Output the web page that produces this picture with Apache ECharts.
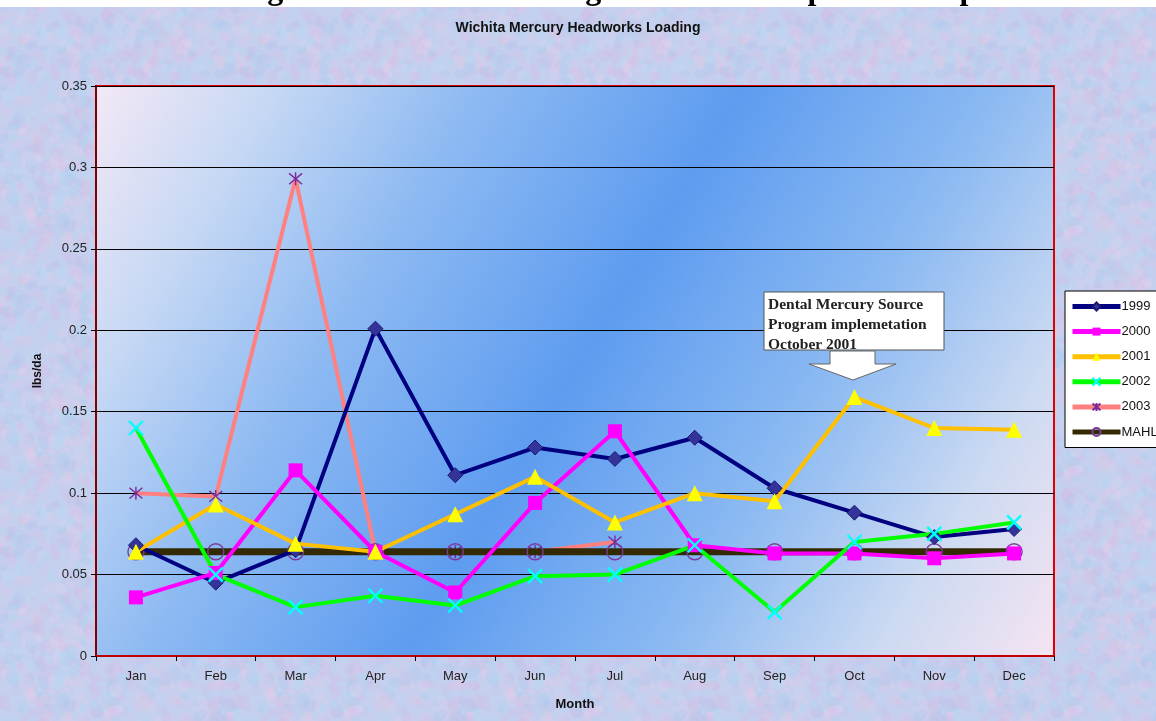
<!DOCTYPE html>
<html>
<head>
<meta charset="utf-8">
<script src="https://cdn.jsdelivr.net/npm/echarts@6/dist/echarts.min.js"></script>
<style>
html,body{margin:0;padding:0;background:#fff;}
#chart{width:1156px;height:721px;}
</style>
</head>
<body>
<div id="chart"></div>
<script>
// ---- data ----
const months = ['Jan','Feb','Mar','Apr','May','Jun','Jul','Aug','Sep','Oct','Nov','Dec'];
const y1999 = [0.068,0.045,0.065,0.201,0.111,0.128,0.121,0.134,0.103,0.088,0.073,0.078];
const y2000 = [0.036,0.051,0.114,0.064,0.039,0.094,0.138,0.068,0.063,0.063,0.060,0.063];
const y2001 = [0.064,0.093,0.069,0.064,0.087,0.110,0.082,0.100,0.095,0.159,0.140,0.139];
const y2002 = [0.140,0.050,0.030,0.037,0.031,0.049,0.050,0.068,0.027,0.070,0.075,0.082];
const y2003 = [0.100,0.098,0.293,0.064,0.064,0.064,0.070,null,null,null,null,null];
const mahl  = [0.064,0.064,0.064,0.064,0.064,0.064,0.064,0.064,0.064,0.064,0.064,0.064];
const seriesNames = ['1999','2000','2001','2002','2003','MAHL'];
const yTicks = {min:0, max:0.35, interval:0.05};

// ---- mottled background texture (deterministic) ----
function hash(i){ const x = Math.sin(i*12.9898+78.233)*43758.5453; return x - Math.floor(x); }
const tex = document.createElement('canvas');
tex.width = 240; tex.height = 240;
const g = tex.getContext('2d');
g.fillStyle = '#c4d0ee'; g.fillRect(0,0,240,240);
const blot = ['#e2c4e6','#b2d4f4','#ccc4ee','#a8c4ec','#e6d0ec','#bcdcf4','#d8bce2'];
for (let i=0;i<1100;i++){
  const x = hash(i)*240, y = hash(i+5000)*240, r = 3+hash(i+9000)*6;
  g.globalAlpha = 0.28;
  g.fillStyle = blot[Math.floor(hash(i+13000)*blot.length)];
  for (const dx of [-240,0,240]) for (const dy of [-240,0,240]){
    g.beginPath(); g.ellipse(x+dx,y+dy,r,r*0.7,hash(i+17000)*3,0,Math.PI*2); g.fill();
  }
}
g.globalAlpha = 1;

const chart = echarts.init(document.getElementById('chart'));
const font = '"Liberation Sans", Arial, sans-serif';
const X_PATH = 'path://M0,0 L10,10 M10,0 L0,10';
const AST_PATH = 'path://M0,0 L10,10 M10,0 L0,10 M5,-1 L5,11';

function mk(name, data, lineColor, symbol, size, itemStyle, z, lw){
  return {
    name, type:'line', data, z,
    symbol, symbolSize:size, showSymbol:true, connectNulls:false,
    lineStyle:{color:lineColor, width:lw||4},
    itemStyle, emphasis:{disabled:true}, animation:false
  };
}

chart.setOption({
  backgroundColor:{image:tex, repeat:'repeat'},
  animation:false,
  title:{
    text:'Wichita Mercury Headworks Loading',
    left:'center', top:16,
    textStyle:{fontFamily:font, fontWeight:'bold', fontSize:14, color:'#111'}
  },
  legend:{
    orient:'vertical', left:1065, top:291,
    itemWidth:48, itemHeight:10, itemGap:12.1,
    padding:[9,6,9,5],
    backgroundColor:'#ffffff', borderColor:'#000', borderWidth:1,
    lineStyle:{width:5},
    textStyle:{fontFamily:font, fontSize:13, color:'#111', padding:[0,0,0,-4]},
    data:seriesNames
  },
  grid:{
    left:96, right:102, top:86, bottom:65,
    show:true,
    borderColor:'#e00000', borderWidth:2,
    backgroundColor: new echarts.graphic.LinearGradient(0,0,1,1,[
      {offset:0, color:'#f4e8f6'},
      {offset:0.14, color:'#c6d8f4'},
      {offset:0.3, color:'#8cb9f2'},
      {offset:0.5, color:'#5e9cf0'},
      {offset:0.7, color:'#8cbaf2'},
      {offset:0.86, color:'#ccdaf2'},
      {offset:1, color:'#f6e4f2'}
    ])
  },
  xAxis:{
    type:'category', data:months, boundaryGap:true,
    name:'Month', nameLocation:'middle', nameGap:42,
    nameTextStyle:{fontFamily:font, fontWeight:'bold', fontSize:13, color:'#111'},
    axisLine:{lineStyle:{color:'#c00000', width:2}},
    axisTick:{show:true, alignWithLabel:false, length:5, lineStyle:{color:'#000'}},
    axisLabel:{fontFamily:font, fontSize:13, color:'#222', margin:14}
  },
  yAxis:{
    type:'value', min:yTicks.min, max:yTicks.max, interval:yTicks.interval,
    name:'lbs/da', nameLocation:'middle', nameGap:52, nameRotate:90,
    nameTextStyle:{fontFamily:font, fontWeight:'bold', fontSize:12, color:'#111'},
    axisLine:{show:true, lineStyle:{color:'#800000', width:2}},
    axisTick:{show:true, length:5, lineStyle:{color:'#000'}},
    axisLabel:{fontFamily:font, fontSize:13, color:'#222', margin:9},
    splitLine:{show:true, lineStyle:{color:'#000', width:1}}
  },
  series:[
    mk('1999', y1999, '#000080', 'diamond', 15, {color:'#333399', borderColor:'#1a1a70', borderWidth:1}, 3),
    mk('2000', y2000, '#ff00ff', 'rect', 14, {color:'#ff00ff'}, 3),
    mk('2001', y2001, '#ffc000', 'triangle', 16, {color:'#ffff00'}, 3),
    mk('2002', y2002, '#00ff00', X_PATH, 14, {color:'#00ffff', borderColor:'#00ffff', borderWidth:2.4}, 3),
    mk('2003', y2003, '#ff8080', AST_PATH, 13, {color:'#8a2a9a', borderColor:'#7a2a9a', borderWidth:1.4}, 1),
    mk('MAHL', mahl, '#332a04', 'circle', 16, {color:'rgba(0,0,0,0)', borderColor:'#7a3c9a', borderWidth:1.4}, 2, 7)
  ],
  graphic:[
    {type:'rect', shape:{x:0,y:0,width:1156,height:7}, style:{fill:'#ffffff'}, z:50},
    {type:'text', x:689, y:7, z:51,
      style:{text:'Figure 3: Wichita Loading and Date of Separator Implementation',
        font:'bold 32px "Liberation Serif", "Times New Roman", serif',
        fill:'#000', align:'center', verticalAlign:'bottom'}},
    {type:'rect', shape:{x:764,y:292,width:180,height:58}, z:60,
      style:{fill:'#ffffff', stroke:'#555', lineWidth:1}},
    {type:'text', x:768, y:295, z:61,
      style:{text:'Dental Mercury Source\nProgram implemetation\nOctober 2001',
        font:'bold 15.5px "Liberation Serif", "Times New Roman", serif',
        fill:'#222', lineHeight:20, align:'left', verticalAlign:'top'}},
    {type:'polygon', z:60,
      shape:{points:[[830,351],[875,351],[875,364],[896,364],[853,380],[809,364],[830,364]]},
      style:{fill:'#ffffff', stroke:'#666', lineWidth:1}}
  ]
});
</script>
</body>
</html>
